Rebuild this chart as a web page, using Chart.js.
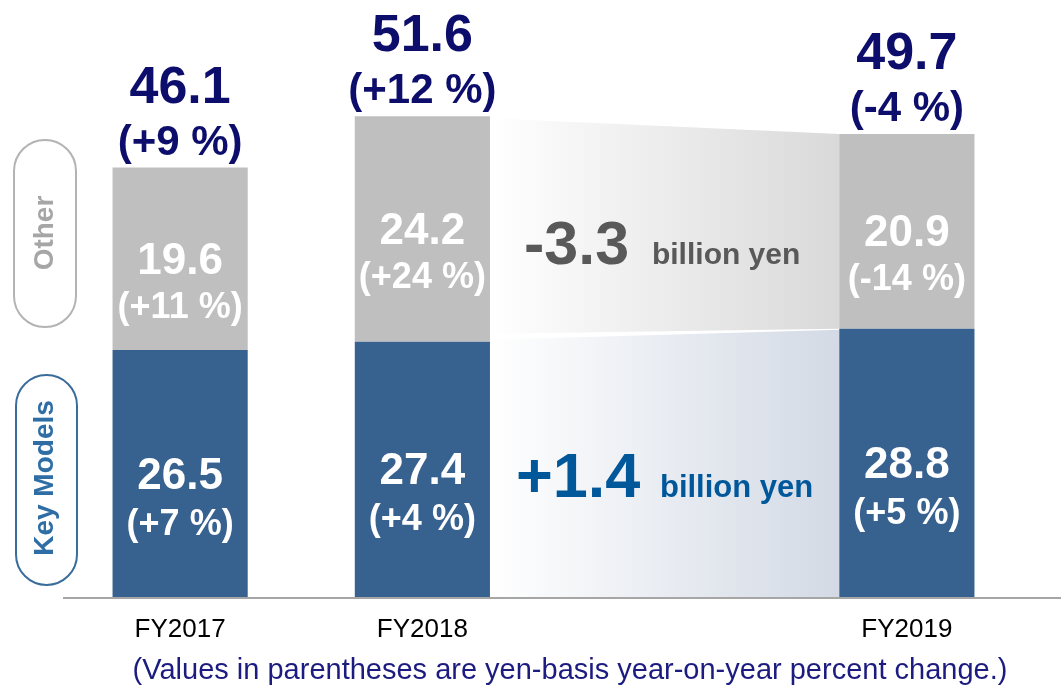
<!DOCTYPE html>
<html>
<head>
<meta charset="utf-8">
<script src="https://cdn.jsdelivr.net/npm/chart.js@4"></script>
<style>
  html, body { margin: 0; padding: 0; background: #ffffff; }
  #wrap { width: 1061px; height: 687px; position: relative; }
</style>
</head>
<body>
<div id="wrap"><canvas id="chartSales"></canvas></div>
<script>
const categories = ['FY2017', 'FY2018', '', 'FY2019'];
const keyModels = [26.5, 27.4, null, 28.8];
const other = [19.6, 24.2, null, 20.9];
const totals = [46.1, 51.6, null, 49.7];
const keyPct = ['(+7 %)', '(+4 %)', '', '(+5 %)'];
const otherPct = ['(+11 %)', '(+24 %)', '', '(-14 %)'];
const totalPct = ['(+9 %)', '(+12 %)', '', '(-4 %)'];
const changeKey = '+1.4';
const changeOther = '-3.3';
const unitText = 'billion yen';
const seriesNames = ['Key Models', 'Other'];
const footNote = '(Values in parentheses are yen-basis year-on-year percent change.)';

const BLUE = '#37618f';
const GREY = '#bfbfbf';
const NAVY = '#0d0d6b';
const FONT = "'Liberation Sans', Arial, sans-serif";

function txt(ctx, s, x, y, size, color, align, bold, maxW) {
    ctx.font = (bold ? 'bold ' : '') + size + 'px ' + FONT;
    ctx.fillStyle = color;
    ctx.textAlign = align || 'center';
    ctx.textBaseline = 'alphabetic';
    if (maxW) ctx.fillText(s, x, y, maxW); else ctx.fillText(s, x, y);
}

function pill(ctx, x, y, w, h, color) {
    const r = w / 2;
    ctx.beginPath();
    ctx.moveTo(x, y + r);
    ctx.arc(x + r, y + r, r, Math.PI, 0, false);
    ctx.lineTo(x + w, y + h - r);
    ctx.arc(x + r, y + h - r, r, 0, Math.PI, false);
    ctx.closePath();
    ctx.strokeStyle = color;
    ctx.lineWidth = 2;
    ctx.stroke();
}

// gradient bands between FY2018 and FY2019
const bandPlugin = {
    id: 'bands',
    beforeDatasetsDraw(chart) {
        const ctx = chart.ctx;
        const k = chart.getDatasetMeta(0).data;
        const o = chart.getDatasetMeta(1).data;
        const a = k[1], b = k[3];
        const x0 = a.x + a.width / 2, x1 = b.x - b.width / 2;
        const base = chart.scales.y.getPixelForValue(0);

        ctx.save();
        let g = ctx.createLinearGradient(x0, 0, x1, 0);
        g.addColorStop(0, '#ffffff');
        g.addColorStop(1, '#d9d9d9');
        ctx.fillStyle = g;
        ctx.beginPath();
        ctx.moveTo(x0, o[1].y + 2);
        ctx.lineTo(x1, o[3].y);
        ctx.lineTo(x1, k[3].y);
        ctx.lineTo(x0, k[1].y - 8);
        ctx.closePath();
        ctx.fill();

        g = ctx.createLinearGradient(x0, 0, x1, 0);
        g.addColorStop(0, '#ffffff');
        g.addColorStop(1, '#d3dae5');
        ctx.fillStyle = g;
        ctx.beginPath();
        ctx.moveTo(x0, k[1].y - 2);
        ctx.lineTo(x1, k[3].y + 1);
        ctx.lineTo(x1, base);
        ctx.lineTo(x0, base);
        ctx.closePath();
        ctx.fill();

        // change labels
        const midO = ((o[1].y + k[1].y) / 2 + (o[3].y + k[3].y) / 2) / 2;
        const midK = ((k[1].y + base) / 2 + (k[3].y + base) / 2) / 2;
        txt(ctx, changeOther, x0 + 34, midO + 34, 61, '#595959', 'left', true);
        txt(ctx, unitText, x0 + 162, midO + 34, 30, '#595959', 'left', true);
        txt(ctx, changeKey, x0 + 26, midK + 31, 63, '#00579a', 'left', true);
        txt(ctx, unitText, x0 + 170, midK + 31, 31, '#00579a', 'left', true);
        ctx.restore();
    }
};

const labelPlugin = {
    id: 'labels',
    afterDatasetsDraw(chart) {
        const ctx = chart.ctx;
        const k = chart.getDatasetMeta(0).data;
        const o = chart.getDatasetMeta(1).data;
        const y = chart.scales.y, x = chart.scales.x;
        const base = y.getPixelForValue(0);
        ctx.save();
        categories.forEach((c, i) => {
            const cx = x.getPixelForValue(i);
            txt(ctx, c, cx, base + 40, 26, '#000000', 'center', false);
            if (keyModels[i] === null) return;
            const top = y.getPixelForValue(totals[i]);
            txt(ctx, totals[i].toFixed(1), cx, top - 65, 52, NAVY, 'center', true);
            txt(ctx, totalPct[i], cx, top - 13, 42, NAVY, 'center', true);

            const mo = (o[i].y + o[i].base) / 2;
            txt(ctx, other[i].toFixed(1), cx, mo + 15, 44, '#ffffff', 'center', true);
            txt(ctx, otherPct[i], cx, mo + 59, 36, '#ffffff', 'center', true);

            const mk = (k[i].y + k[i].base) / 2;
            txt(ctx, keyModels[i].toFixed(1), cx, mk + 15, 44, '#ffffff', 'center', true);
            txt(ctx, keyPct[i], cx, mk + 61, 36, '#ffffff', 'center', true);
        });

        // baseline
        ctx.strokeStyle = '#a6a6a6';
        ctx.lineWidth = 2;
        ctx.beginPath();
        ctx.moveTo(63, base + 1);
        ctx.lineTo(chart.width, base + 1);
        ctx.stroke();

        // series tags
        pill(ctx, 14, 140, 62, 187, '#b3b3b3');
        pill(ctx, 16, 375, 61, 210, '#3a6d9c');
        ctx.translate(45, 233);
        ctx.rotate(-Math.PI / 2);
        ctx.font = 'bold 28px ' + FONT;
        ctx.fillStyle = '#a6a6a6';
        ctx.textAlign = 'center';
        ctx.textBaseline = 'middle';
        ctx.fillText(seriesNames[1], 0, 0);
        ctx.setTransform(1, 0, 0, 1, 0, 0);
        ctx.translate(45, 478);
        ctx.rotate(-Math.PI / 2);
        ctx.fillStyle = '#2f6ea5';
        ctx.fillText(seriesNames[0], 0, 0);
        ctx.setTransform(1, 0, 0, 1, 0, 0);

        txt(ctx, footNote, 570, 679, 29, '#1c1c80', 'center', false, 887);
        ctx.restore();
    }
};

new Chart(document.getElementById('chartSales').getContext('2d'), {
    type: 'bar',
    data: {
        labels: categories,
        datasets: [
            { label: seriesNames[0], data: keyModels, backgroundColor: BLUE, borderWidth: 0 },
            { label: seriesNames[1], data: other, backgroundColor: GREY, borderWidth: 0 }
        ]
    },
    options: {
        responsive: true,
        maintainAspectRatio: false,
        animation: false,
        layout: { padding: { left: 59, right: 33, top: 38, bottom: 90 } },
        datasets: { bar: { barPercentage: 1, categoryPercentage: 0.558 } },
        plugins: {
            legend: { display: false },
            tooltip: { enabled: false }
        },
        scales: {
            x: { stacked: true, display: false },
            y: { stacked: true, display: false, min: 0, max: 60 }
        }
    },
    plugins: [bandPlugin, labelPlugin]
});
</script>
</body>
</html>
